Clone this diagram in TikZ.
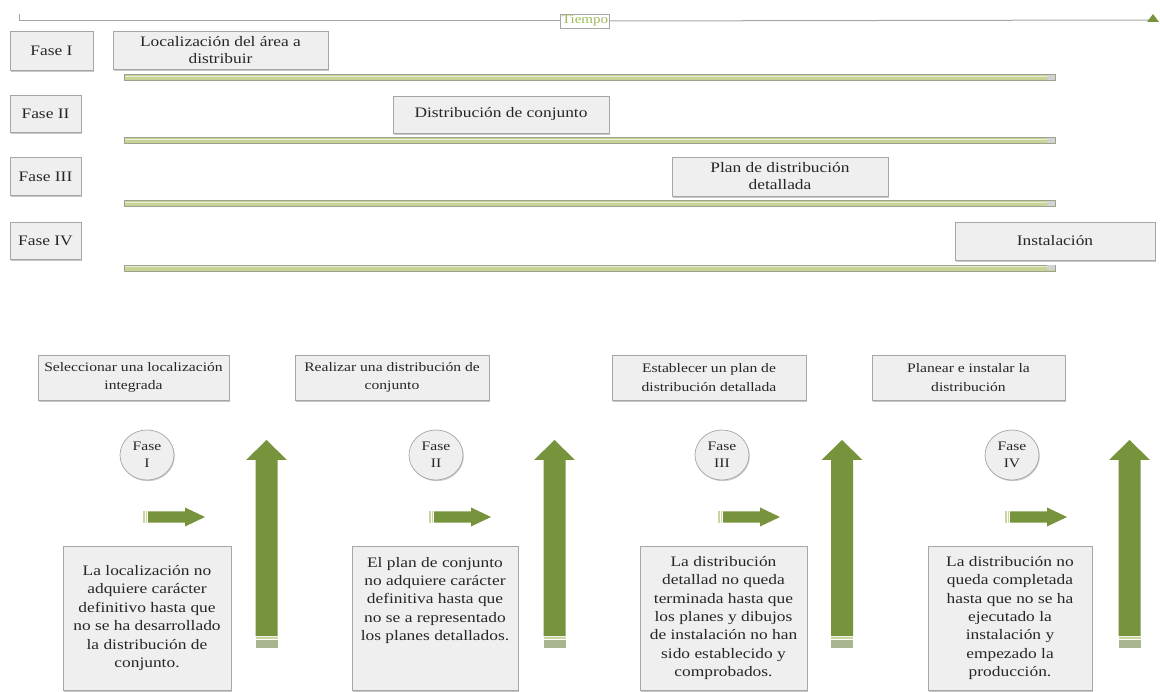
\documentclass[tikz,border=0pt]{standalone}
\usepackage{fontspec}
\setmainfont{Liberation Serif}[FakeStretch=1.2]
\usetikzlibrary{shapes.geometric,shadows}

\definecolor{boxfill}{HTML}{EFEFEF}
\definecolor{boxline}{HTML}{A6A6A6}
\definecolor{olive}{HTML}{77933C}
\definecolor{olivelight}{HTML}{C9D79C}
\definecolor{olivegray}{HTML}{A9B58E}
\definecolor{barfill}{HTML}{C6D596}
\definecolor{barline}{HTML}{9DA28F}
\definecolor{txt}{HTML}{262626}
\definecolor{tiempo}{HTML}{9BBB59}

% horizontal striped arrow: #1 = left x, #2 = centre y
\newcommand{\rightstripearrow}[2]{%
  \fill[olivelight] (#1,{#2-5.5}) rectangle ({#1+1.5},{#2+5.5});
  \fill[olivelight] ({#1+2.5},{#2-5.5}) rectangle ({#1+4},{#2+5.5});
  \fill[olive] ({#1+5},{#2-5.5}) -- ({#1+42},{#2-5.5}) -- ({#1+42},{#2-9.5})
    -- ({#1+62},#2) -- ({#1+42},{#2+9.5}) -- ({#1+42},{#2+5.5})
    -- ({#1+5},{#2+5.5}) -- cycle;
}
% vertical striped arrow: #1 = centre x
\newcommand{\upstripearrow}[1]{%
  \fill[olive] ({#1-11},636) -- ({#1-11},460) -- ({#1-20.5},460) -- (#1,440)
    -- ({#1+20.5},460) -- ({#1+11},460) -- ({#1+11},636) -- cycle;
  \fill[olivelight] ({#1-11},637.2) rectangle ({#1+11},639.2);
  \fill[olivegray] ({#1-11},640.2) rectangle ({#1+11},647.5);
}

\tikzset{
  box/.style={draw=boxline, fill=boxfill, line width=0.7pt, text=txt,
    inner sep=0pt, align=center,
    drop shadow={shadow xshift=1.2pt, shadow yshift=-1.6pt, opacity=0.22, fill=black}},
  toptxt/.style={font=\fontsize{14.5}{17}\selectfont},
  headtxt/.style={font=\fontsize{13}{18.5}\selectfont},
  bodytxt/.style={font=\fontsize{14.5}{18.4}\selectfont},
  phase/.style={ellipse, draw=boxline, fill=boxfill, line width=0.7pt, text=txt,
    inner sep=0pt, minimum width=54pt, minimum height=50pt, align=center,
    font=\fontsize{13}{17}\selectfont,
    drop shadow={shadow xshift=0.8pt, shadow yshift=-1.2pt, opacity=0.2, fill=black}},
  bar/.style={draw=barline, fill=barfill, line width=0.8pt},
}

\begin{document}
\begin{tikzpicture}[x=1pt,y=-1pt]
\useasboundingbox (0,0) rectangle (1160,692);

% time axis
\node[draw=boxline, line width=0.5pt, fill=white, text=tiempo, inner sep=1.5pt,
  font=\fontsize{12.5}{14}\selectfont] (tiempo) at (585,21) {Tiempo};
\coordinate (tstart) at (19,14);
\coordinate (tend) at (1150,20);
\draw[boxline, line width=1pt] (tstart) |- (tiempo.west);
\draw[boxline, line width=1pt] (tiempo.east) -- (tend);
\fill[olive] (1153,14) -- (1159,22) -- (1147,22) -- cycle;

% phase labels
\node[box, toptxt, minimum width=83pt, minimum height=39pt] (f1) at (51.5,50.5) {Fase I};
\node[box, toptxt, minimum width=71pt, minimum height=37pt] (f2) at (45.5,113.5) {Fase II};
\node[box, toptxt, minimum width=71pt, minimum height=38pt] (f3) at (45.5,176.5) {Fase III};
\node[box, toptxt, minimum width=71pt, minimum height=37pt] (f4) at (45.5,240.5) {Fase IV};

% activities along the time axis
\node[box, toptxt, minimum width=215pt, minimum height=38pt] (a1) at (220.5,50) {Localización del área a\\distribuir};
\node[box, toptxt, minimum width=216pt, minimum height=37pt] (a2) at (501,114.5) {Distribución de conjunto};
\node[box, toptxt, minimum width=216pt, minimum height=39pt] (a3) at (780,176.5) {Plan de distribución\\detallada};
\node[box, toptxt, minimum width=200pt, minimum height=38pt] (a4) at (1055,241) {Instalación};

% duration bars
\foreach \y in {77.5,140.5,203.5,268}{
  \draw[bar] (124,{\y-3}) rectangle (1055,{\y+3});
  \draw[white!60!barfill, line width=0.8pt] (125,{\y-1.2}) -- (1047,{\y-1.2});
  \fill[gray!35] (1047,{\y-2.5}) rectangle (1054.5,{\y+2.5});
}

% phase headings
\node[box, headtxt, minimum width=191pt, minimum height=45pt] (h1) at (133.5,377.5) {Seleccionar una localización\\integrada};
\node[box, headtxt, minimum width=194pt, minimum height=45pt] (h2) at (392,377.5) {Realizar una distribución de\\conjunto};
\node[box, headtxt, minimum width=194pt, minimum height=45pt] (h3) at (709,377.5) {Establecer un plan de\\distribución detallada};
\node[box, headtxt, minimum width=193pt, minimum height=45pt] (h4) at (968.5,377.5) {Planear e instalar la\\distribución};

% phase circles
\node[phase] (c1) at (147,455) {Fase\\I};
\node[phase] (c2) at (436,455) {Fase\\II};
\node[phase] (c3) at (722,455) {Fase\\III};
\node[phase] (c4) at (1012,455) {Fase\\IV};

% arrows
\rightstripearrow{143}{517}
\rightstripearrow{429}{517}
\rightstripearrow{718}{517}
\rightstripearrow{1005}{517}
\upstripearrow{266.5}
\upstripearrow{554.5}
\upstripearrow{842}
\upstripearrow{1129.5}

% conditions
\node[box, bodytxt, minimum width=168pt, minimum height=144pt] (n1) at (147,618)
  {La localización no\\adquiere carácter\\definitivo hasta que\\no se ha desarrollado\\la distribución de\\conjunto.};
\node[box, minimum width=166pt, minimum height=144pt] (n2) at (435,618) {};
\node[bodytxt, text=txt, align=center, inner sep=0pt] (n2t) at (435,600.5)
  {El plan de conjunto\\no adquiere carácter\\definitiva hasta que\\no se a representado\\los planes detallados.};
\node[box, bodytxt, minimum width=167pt, minimum height=144pt] (n3) at (723.5,618)
  {La distribución\\detallad no queda\\terminada hasta que\\los planes y dibujos\\de instalación no han\\sido establecido y\\comprobados.};
\node[box, bodytxt, minimum width=164pt, minimum height=144pt] (n4) at (1010,618)
  {La distribución no\\queda completada\\hasta que no se ha\\ejecutado la\\instalación y\\empezado la\\producción.};
\end{tikzpicture}
\end{document}
